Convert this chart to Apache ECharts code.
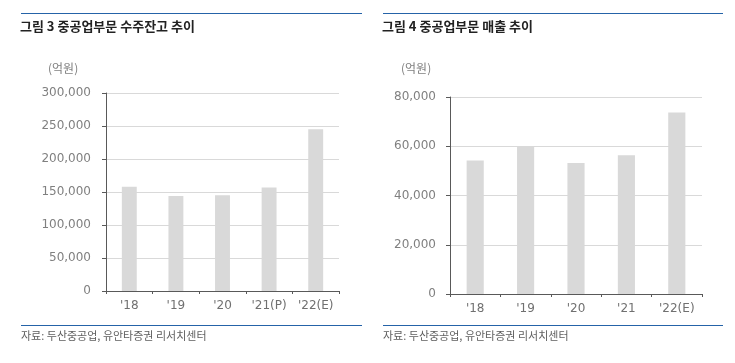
<!DOCTYPE html>
<html><head><meta charset="utf-8">
<script src="https://cdn.jsdelivr.net/npm/echarts@6/dist/echarts.min.js"></script>
<style>html,body{margin:0;padding:0;background:#fff}#c{width:735px;height:363px}</style>
</head><body><div id="c"></div>
<script>
const catsL = ["'18", "'19", "'20", "'21(P)", "'22(E)"];
const backlog = [158000, 144000, 145000, 157000, 245000];
const catsR = ["'18", "'19", "'20", "'21", "'22(E)"];
const sales = [54200, 60000, 53200, 56300, 73700];
const titleL = '그림 3 중공업부문 수주잔고 추이';
const titleR = '그림 4 중공업부문 매출 추이';
const unit = '(억원)';
const source = '자료: 두산중공업, 유안타증권 리서치센터';

const chart = echarts.init(document.getElementById('c'), null, {renderer: 'canvas'});
const font = 'DejaVu Sans';
const lblColor = '#808080';
const axisColor = '#595959';
function yAxis(grid, max, interval, margin) {
  return {
    type: 'value', gridIndex: grid, min: 0, max: max, interval: interval,
    axisLine: {show: true, lineStyle: {color: axisColor, width: 1}},
    axisTick: {show: true, length: 4, lineStyle: {color: axisColor}},
    axisLabel: {color: lblColor, fontFamily: font, fontSize: 12, margin: margin,
      formatter: v => v.toLocaleString('en-US')},
    splitLine: {show: true, lineStyle: {color: '#d9d9d9', width: 1}}
  };
}
function xAxis(grid, cats) {
  return {
    type: 'category', gridIndex: grid, data: cats,
    axisLine: {show: true, lineStyle: {color: axisColor, width: 1}},
    axisTick: {show: true, length: 3, inside: false, lineStyle: {color: axisColor}},
    axisLabel: {color: '#707070', fontFamily: font, fontSize: 12, margin: 9}
  };
}
const titleStyle = {color: '#222', fontFamily: 'Noto Sans CJK KR', fontSize: 13, fontWeight: 'bold'};
const smallStyle = {color: '#606060', fontFamily: 'Noto Sans CJK KR', fontSize: 11, fontWeight: 'normal'};
const unitStyle = {color: '#808080', fontFamily: 'Noto Sans CJK KR', fontSize: 12, fontWeight: 'normal'};
chart.setOption({
  animation: false,
  title: [
    {text: titleL, left: 20, top: 20, textStyle: titleStyle, padding: 0},
    {text: titleR, left: 382, top: 20, textStyle: titleStyle, padding: 0},
    {text: unit, left: 48, top: 62, textStyle: unitStyle, padding: 0},
    {text: unit, left: 401, top: 62, textStyle: unitStyle, padding: 0},
    {text: source, left: 21, top: 330, textStyle: smallStyle, padding: 0},
    {text: source, left: 383, top: 330, textStyle: smallStyle, padding: 0}
  ],
  graphic: [
    {type: 'line', shape: {x1: 21, y1: 13.5, x2: 362, y2: 13.5}, style: {stroke: '#2563a8', lineWidth: 1}},
    {type: 'line', shape: {x1: 383, y1: 13.5, x2: 723, y2: 13.5}, style: {stroke: '#2563a8', lineWidth: 1}},
    {type: 'line', shape: {x1: 21, y1: 325.5, x2: 362, y2: 325.5}, style: {stroke: '#2563a8', lineWidth: 1}},
    {type: 'line', shape: {x1: 383, y1: 325.5, x2: 723, y2: 325.5}, style: {stroke: '#2563a8', lineWidth: 1}}
  ],
  grid: [
    {left: 106, top: 93, right: 396, bottom: 72},
    {left: 450, top: 97, right: 33, bottom: 69}
  ],
  xAxis: [xAxis(0, catsL), xAxis(1, catsR)],
  yAxis: [yAxis(0, 300000, 50000, 15), yAxis(1, 80000, 20000, 14)],
  series: [
    {type: 'bar', xAxisIndex: 0, yAxisIndex: 0, data: backlog, barWidth: '32%', itemStyle: {color: '#d9d9d9'}},
    {type: 'bar', xAxisIndex: 1, yAxisIndex: 1, data: sales, barWidth: '34%', itemStyle: {color: '#d9d9d9'}}
  ]
});
</script></body></html>
